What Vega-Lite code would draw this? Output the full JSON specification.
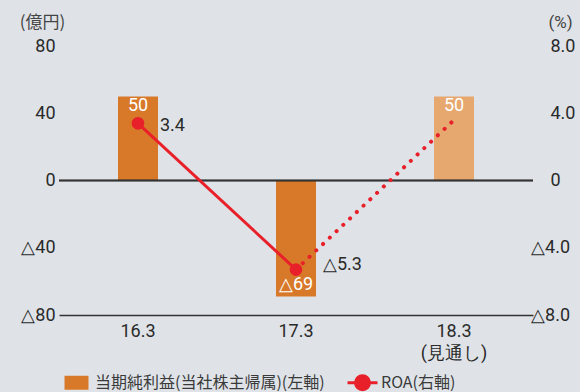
{
  "$schema": "https://vega.github.io/schema/vega-lite/v6.json",
  "width": 474,
  "height": 269,
  "autosize": "none",
  "padding": {"left": 59, "top": 46, "right": 47, "bottom": 77},
  "background": "#dfe3e8",
  "config": {
    "view": {"stroke": null},
    "font": "Roboto",
    "axis": {"grid": false, "ticks": false, "labelFont": "Roboto", "labelFontSize": 18, "labelColor": "#2a2a2a", "titleFontWeight": "normal"}
  },
  "datasets": {
    "profit": [
      {"cat": "16.3", "v": 50, "label": "50", "series": "当期純利益(当社株主帰属)(左軸)"},
      {"cat": "17.3", "v": -69, "label": "△69", "series": "当期純利益(当社株主帰属)(左軸)"},
      {"cat": "18.3", "v": 50, "label": "50", "series": "当期純利益(当社株主帰属)(左軸)"}
    ],
    "roa": [
      {"cat": "16.3", "roa": 3.4, "label": "3.4"},
      {"cat": "17.3", "roa": -5.3, "label": "△5.3"},
      {"cat": "18.3", "roa": 3.6, "label": ""}
    ]
  },
  "layer": [
    {
      "data": {"name": "profit"},
      "layer": [
        {
          "mark": {"type": "bar", "width": 40},
          "encoding": {
            "x": {"field": "cat", "type": "nominal", "scale": {"paddingInner": 0, "paddingOuter": 0},
              "axis": {"title": null, "orient": "bottom", "domain": true, "domainColor": "#333", "domainWidth": 1.5, "labelAngle": 0, "labelPadding": 7, "labelBaseline": "top", "labelLineHeight": 22,
                "labelExpr": "datum.value === '18.3' ? ['18.3', '(見通し)'] : datum.value"}},
            "y": {"field": "v", "type": "quantitative", "scale": {"domain": [-80, 80], "nice": false},
              "axis": {"values": [-80, -40, 0, 40, 80], "domain": false, "labelPadding": 4,
                "labelExpr": "datum.value < 0 ? '△' + abs(datum.value) : datum.value",
                "title": "(億円)", "titleAngle": 0, "titleAlign": "center", "titleBaseline": "middle", "titleX": -17, "titleY": -24, "titleFontSize": 17, "titleColor": "#444", "titleFont": "Noto Sans CJK JP"}},
            "color": {
              "condition": {"test": "datum.cat === '18.3'", "value": "#e6a86f"},
              "field": "series", "type": "nominal",
              "scale": {"domain": ["当期純利益(当社株主帰属)(左軸)", "ROA(右軸)"], "range": ["#d8792a", "#e8202a"]},
              "legend": {
                "orient": "none", "legendX": 6, "legendY": 325, "direction": "horizontal", "title": null,
                "symbolSize": 400, "labelFontSize": 16, "labelFont": "Noto Sans CJK JP", "labelColor": "#3a3a3a", "columnPadding": 16, "labelOffset": 7, "labelLimit": 400,
                "encode": {"symbols": {"update": {
                  "shape": {"signal": "datum.value === 'ROA(右軸)' ? 'M-1.5,0L1.5,0M-0.7,0A0.7,0.7 0 1,1 0.7,0A0.7,0.7 0 1,1 -0.7,0Z' : 'M-1.2,-0.7L1.2,-0.7L1.2,0.7L-1.2,0.7Z'"},
                  "fill": {"signal": "datum.value === 'ROA(右軸)' ? '#e8202a' : '#d8792a'"},
                  "stroke": {"signal": "datum.value === 'ROA(右軸)' ? '#e8202a' : 'transparent'"},
                  "strokeWidth": {"value": 3},
                  "opacity": {"value": 1}
                }}}
              }
            }
          }
        },
        {
          "transform": [{"filter": "datum.v >= 0"}],
          "mark": {"type": "text", "baseline": "top", "align": "center", "fontSize": 18, "color": "white", "dy": 1},
          "encoding": {
            "x": {"field": "cat", "type": "nominal"},
            "y": {"field": "v", "type": "quantitative"},
            "text": {"field": "label"}
          }
        },
        {
          "transform": [{"filter": "datum.v < 0"}],
          "mark": {"type": "text", "baseline": "bottom", "align": "center", "fontSize": 18, "color": "white", "dy": -3},
          "encoding": {
            "x": {"field": "cat", "type": "nominal"},
            "y": {"field": "v", "type": "quantitative"},
            "text": {"field": "label"}
          }
        },
        {
          "mark": {"type": "rule", "color": "#333", "strokeWidth": 1.5},
          "encoding": {"y": {"datum": 0, "type": "quantitative"}}
        }
      ]
    },
    {
      "data": {"name": "roa"},
      "encoding": {
        "x": {"field": "cat", "type": "nominal"},
        "y": {"field": "roa", "type": "quantitative", "scale": {"domain": [-8, 8], "nice": false},
          "axis": {"orient": "right", "values": [-8, -4, 0, 4, 8], "domain": false, "labelPadding": 17,
            "labelAlign": {"condition": {"test": "datum.value < 0", "value": "center"}, "value": "left"},
            "labelExpr": "datum.value < 0 ? '△' + format(abs(datum.value), '.1f') : (datum.value === 0 ? '0' : format(datum.value, '.1f'))",
            "title": "(%)", "titleAngle": 0, "titleAlign": "center", "titleBaseline": "middle", "titleX": 27, "titleY": -24, "titleFontSize": 17, "titleColor": "#444"}}
      },
      "layer": [
        {
          "transform": [{"filter": "datum.cat !== '18.3'"}],
          "mark": {"type": "line", "color": "#e8202a", "strokeWidth": 3}
        },
        {
          "transform": [{"filter": "datum.cat !== '16.3'"}],
          "mark": {"type": "line", "color": "#e8202a", "strokeWidth": 4, "strokeCap": "round", "strokeDash": [0.1, 9.2]}
        },
        {
          "transform": [{"filter": "datum.cat !== '18.3'"}],
          "mark": {"type": "point", "filled": true, "opacity": 1, "color": "#e8202a", "size": 160}
        },
        {
          "transform": [{"filter": "datum.cat === '16.3'"}],
          "mark": {"type": "text", "align": "left", "baseline": "middle", "fontSize": 18, "color": "#2a2a2a", "dx": 22, "dy": 3},
          "encoding": {"text": {"field": "label"}}
        },
        {
          "transform": [{"filter": "datum.cat === '17.3'"}],
          "mark": {"type": "text", "align": "left", "baseline": "middle", "fontSize": 18, "color": "#2a2a2a", "dx": 27, "dy": -5},
          "encoding": {"text": {"field": "label"}}
        }
      ]
    }
  ],
  "resolve": {"scale": {"y": "independent"}}
}
